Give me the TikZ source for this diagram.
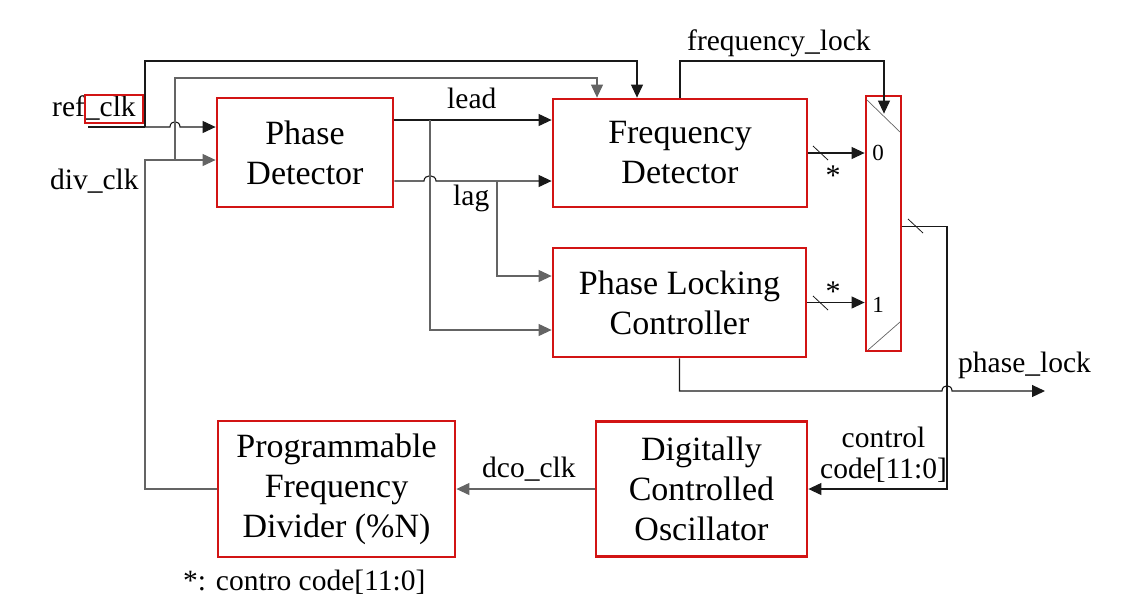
\documentclass[tikz,border=0pt]{standalone}
\usepackage{fontspec}
\setmainfont{Liberation Serif}
\usetikzlibrary{arrows.meta}
\definecolor{boxred}{RGB}{210,20,20}
\definecolor{wire}{RGB}{25,25,25}
\definecolor{wiregray}{RGB}{100,100,100}
\tikzset{
  blk/.style={draw=boxred, line width=2.8pt, fill=white, align=center, inner sep=0pt,
              font=\fontsize{34}{40}\selectfont},
  wireline/.style={draw=wire, line width=1.1pt},
  graywire/.style={draw=wiregray, line width=1.1pt},
  arr/.style={-{Triangle[length=13pt,width=12pt]}},
  lbl/.style={font=\fontsize{29.5}{31}\selectfont, inner sep=0pt},
  star/.style={font=\fontsize{30}{30}\selectfont, inner sep=0pt},
  muxlbl/.style={font=\fontsize{23}{23}\selectfont, inner sep=0pt},
  slash/.style={draw=wire, line width=0.8pt},
}
\begin{document}
\begin{tikzpicture}[x=1pt,y=-1pt]
\path[use as bounding box] (0,0) rectangle (1133,614);

% blocks
\node[blk, minimum width=176pt, minimum height=109pt] (pd) at (305,152.5) {Phase\\Detector};
\node[blk, minimum width=254pt, minimum height=108pt] (fd) at (680,153) {Frequency\\Detector};
\node[blk, minimum width=253pt, minimum height=109pt] (plc) at (679.5,302.5) {Phase Locking\\Controller};
\node[blk, minimum width=211pt, minimum height=135pt] (dco) at (701.5,489) {Digitally\\Controlled\\Oscillator};
\node[blk, minimum width=237pt, minimum height=136pt] (pfd) at (336.5,489) {Programmable\\Frequency\\Divider (\%N)};
\node[draw=boxred, line width=2.8pt, minimum width=35pt, minimum height=255pt, inner sep=0pt] (mux) at (883.5,223.5) {};
\draw[graywire, line width=0.7pt] (867,100) -- (900,132);
\draw[graywire, line width=0.7pt] (868,350) -- (900,322);

% input labels
\node[lbl, anchor=base west] (tref) at (52,116) {ref\_clk};
\node[draw=boxred, line width=2.2pt, minimum width=58pt, minimum height=28pt, inner sep=0pt] (refbox) at (114,109) {};
\node[lbl, anchor=base west] (tdiv) at (50,189) {div\_clk};

% coordinates
\coordinate (refin) at (88,127);
\coordinate (refcorner) at (145,127);
\coordinate (tap) at (175,160);
\coordinate (leadout) at ([yshift=32.5pt]pd.east);
\coordinate (lagout) at ([yshift=-28.5pt]pd.east);
\coordinate (b1) at (430,120);
\coordinate (b2) at (497,181);
\coordinate (mo) at ([yshift=-3pt]mux.east);
\coordinate (plout) at (1045,391);

% ref_clk
\draw[wireline] (refin) -- (refcorner);
\draw[wireline, arr] (refcorner) -- (145,61) -| ([xshift=-43pt]fd.north);
\draw[wireline, arr] (refcorner) -- (170,127) .. controls (170,120) and (180,120) .. (180,127) -- ([yshift=25.5pt]pd.west);

% div_clk feedback
\draw[graywire, arr] (pfd.west) -| (145,160) -- ([yshift=-7.5pt]pd.west);
\draw[graywire, arr] (tap) -- (175,78) -| ([xshift=-83pt]fd.north);

% lead / lag
\draw[wireline, arr] (leadout) -- (leadout -| fd.west);
\draw[wireline, arr] (lagout) -- (424,181) .. controls (424,174) and (436,174) .. (436,181) -- (lagout -| fd.west);
\draw[graywire, arr] (b1) |- ([yshift=-27.5pt]plc.west);
\draw[graywire, arr] (b2) |- ([yshift=26.5pt]plc.west);
\node[lbl, anchor=base west] (tlead) at (447,108) {lead};
\node[lbl, anchor=base west] (tlag) at (453,205) {lag};

% frequency_lock
\draw[wireline, arr] (fd.north) -- (680,61) -| ([xshift=0.5pt, yshift=-19pt]mux.north);
\node[lbl, anchor=base west] (tfl) at (687,50) {frequency\_lock};

% to mux
\draw[wireline, arr] (fd.east) -- (fd.east -| mux.west);
\draw[wireline, arr] (plc.east) -- (plc.east -| mux.west);
\draw[slash] (813,146) -- (828,160);
\draw[slash] (813,296) -- (828,310);
\node[star] (s0) at (833,176) {*};
\node[star] (s1) at (833,292) {*};
\node[muxlbl] (m0) at (878,153) {0};
\node[muxlbl] (m1) at (878,305) {1};

% mux output -> DCO
\draw[wireline, arr] (mo) -- (947,226.5) -- (947,489) -- (dco.east);
\draw[slash] (908,219) -- (923,233);
\node[lbl, align=center] (tctl) at (883.5,455) {control\\code[11:0]};

% phase_lock
\draw[wireline, arr] (plc.south) -- (679.5,391) -- (942,391) .. controls (942,384) and (952,384) .. (952,391) -- (plout);
\node[lbl, anchor=base west] (tpl) at (958,372) {phase\_lock};

% dco_clk
\draw[graywire, arr] (dco.west) -- (pfd.east);
\node[lbl, anchor=base west] (tdco) at (482,477) {dco\_clk};

% footnote
\node[lbl, anchor=base west] (note) at (183,590) {*: contro code[11:0]};
\end{tikzpicture}
\end{document}
